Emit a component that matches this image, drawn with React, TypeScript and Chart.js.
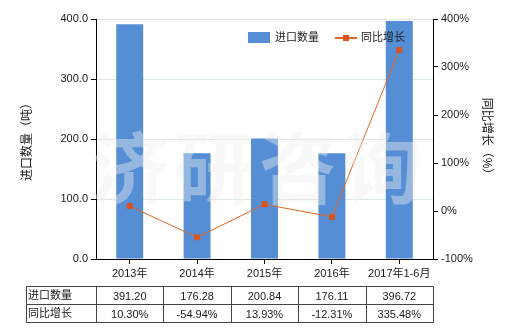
import React, { useEffect, useRef } from "react";
import { Chart, registerables } from "chart.js";

Chart.register(...registerables);

const categories = ["2013年", "2014年", "2015年", "2016年", "2017年1-6月"];
const importQty = [391.2, 176.28, 200.84, 176.11, 396.72];
const yoyGrowth = [10.3, -54.94, 13.93, -12.31, 335.48];
const qtyLabels = ["391.20", "176.28", "200.84", "176.11", "396.72"];
const yoyLabels = ["10.30%", "-54.94%", "13.93%", "-12.31%", "335.48%"];
const seriesNames = ["进口数量", "同比增长"];
const axisTitles = ["进口数量（吨）", "同比增长（%）"];
const watermark = ["济", "研", "咨", "询"];

const FONT = '"Liberation Sans", "Noto Sans CJK SC", sans-serif';
const BAR = "#558ed5";
const LINE = "#e4661f";
const POINT = "#d9541e";
const TEXT = "#1a1a1a";

const overlay = {
  id: "overlay",
  afterDatasetsDraw(chart: any) {
    const ctx = chart.ctx;
    const ca = chart.chartArea;
    ctx.save();
    ctx.font = `bold 78px "Noto Sans CJK SC", sans-serif`;
    ctx.fillStyle = "rgba(238,238,238,0.42)";
    ctx.textAlign = "center";
    ctx.textBaseline = "middle";
    const start = ca.left + 34;
    watermark.forEach((c, i) => ctx.fillText(c, start + i * 84, 168));
    ctx.restore();
  },
  afterDraw(chart: any) {
    const ctx = chart.ctx;
    const ca = chart.chartArea;
    const xs = chart.scales.x;
    ctx.save();
    // legend
    ctx.font = `11px ${FONT}`;
    ctx.textBaseline = "middle";
    ctx.textAlign = "left";
    ctx.fillStyle = BAR;
    ctx.fillRect(248, 32, 22, 11);
    ctx.fillStyle = TEXT;
    ctx.fillText(seriesNames[0], 275, 38);
    ctx.strokeStyle = LINE;
    ctx.lineWidth = 2;
    ctx.beginPath();
    ctx.moveTo(335, 38);
    ctx.lineTo(357, 38);
    ctx.stroke();
    ctx.fillStyle = POINT;
    ctx.fillRect(343, 35, 6, 6);
    ctx.fillStyle = TEXT;
    ctx.fillText(seriesNames[1], 361, 38);

    // table
    const n = categories.length;
    const cw = (ca.right - ca.left) / n;
    const left = 26.5;
    const top = 286.5;
    const rh = 18;
    const right = Math.round(ca.right) + 0.5;
    ctx.strokeStyle = "#444";
    ctx.lineWidth = 1;
    ctx.beginPath();
    for (let r = 0; r <= 2; r++) {
      ctx.moveTo(left, top + r * rh);
      ctx.lineTo(right, top + r * rh);
    }
    ctx.moveTo(left, top);
    ctx.lineTo(left, top + 2 * rh);
    for (let i = 0; i <= n; i++) {
      const x = Math.round(ca.left + i * cw) + 0.5;
      ctx.moveTo(x, top);
      ctx.lineTo(x, top + 2 * rh);
    }
    ctx.stroke();
    ctx.fillStyle = TEXT;
    ctx.font = `11px ${FONT}`;
    ctx.textAlign = "left";
    ctx.fillText(seriesNames[0], 28, top + rh / 2);
    ctx.fillText(seriesNames[1], 28, top + rh * 1.5);
    ctx.textAlign = "center";
    for (let i = 0; i < n; i++) {
      const x = xs.getPixelForValue(i);
      ctx.fillText(qtyLabels[i], x, top + rh / 2 + 1);
      ctx.fillText(yoyLabels[i], x, top + rh * 1.5 + 1);
    }
    ctx.restore();
  },
};

export default function App() {
  const ref = useRef<HTMLCanvasElement | null>(null);
  useEffect(() => {
    document.body.style.margin = "0";
    if (!ref.current) return;
    const chart = new Chart(ref.current, {
      type: "bar",
      data: {
        labels: categories,
        datasets: [
          {
            type: "line",
            label: seriesNames[1],
            data: yoyGrowth,
            yAxisID: "y1",
            borderColor: LINE,
            borderWidth: 1,
            backgroundColor: POINT,
            pointBackgroundColor: POINT,
            pointBorderColor: POINT,
            pointStyle: "rect",
            pointRadius: 3.5,
            order: 0,
          } as any,
          {
            type: "bar",
            label: seriesNames[0],
            data: importQty,
            yAxisID: "y",
            backgroundColor: BAR,
            barPercentage: 0.4,
            categoryPercentage: 1,
            order: 1,
          },
        ],
      },
      options: {
        animation: false,
        responsive: false,
        devicePixelRatio: 1,
        layout: { padding: { top: 19, left: 0, right: 0, bottom: 0 } },
        plugins: { legend: { display: false }, tooltip: { enabled: false } },
        scales: {
          x: {
            offset: true,
            grid: {
              offset: false,
              drawOnChartArea: false,
              drawTicks: true,
              tickLength: 5,
              tickColor: "#000",
            },
            border: { display: true, color: "#000", width: 1 },
            ticks: { color: TEXT, font: { size: 11, family: FONT }, padding: 3, maxRotation: 0, autoSkip: false },
            afterFit: (s: any) => {
              s.height = 71;
            },
          },
          y: {
            position: "left",
            min: 0,
            max: 400,
            ticks: {
              stepSize: 100,
              color: TEXT,
              font: { size: 11, family: FONT },
              padding: 3,
              callback: (v: any) => Number(v).toFixed(1),
            },
            grid: { color: "#dbe6e6", tickColor: "#000", tickLength: 5 },
            border: { display: true, color: "#000", width: 1 },
            title: {
              display: true,
              text: axisTitles[0],
              color: TEXT,
              font: { size: 12, family: FONT },
              padding: { top: 20, bottom: 0 },
            },
            afterFit: (s: any) => {
              s.width = 96;
            },
          },
          y1: {
            position: "right",
            min: -100,
            max: 400,
            ticks: {
              stepSize: 100,
              color: TEXT,
              font: { size: 11, family: FONT },
              padding: 3,
              callback: (v: any) => `${v}%`,
            },
            grid: { drawOnChartArea: false, tickColor: "#000", tickLength: 5 },
            border: { display: true, color: "#000", width: 1 },
            title: {
              display: true,
              text: axisTitles[1],
              color: TEXT,
              font: { size: 12, family: FONT },
              padding: { top: 26, bottom: 0 },
            },
            afterFit: (s: any) => {
              s.width = 87;
            },
          },
        },
      },
      plugins: [overlay],
    });
    return () => chart.destroy();
  }, []);
  return <canvas ref={ref} width={520} height={330} style={{ display: "block" }} />;
}
